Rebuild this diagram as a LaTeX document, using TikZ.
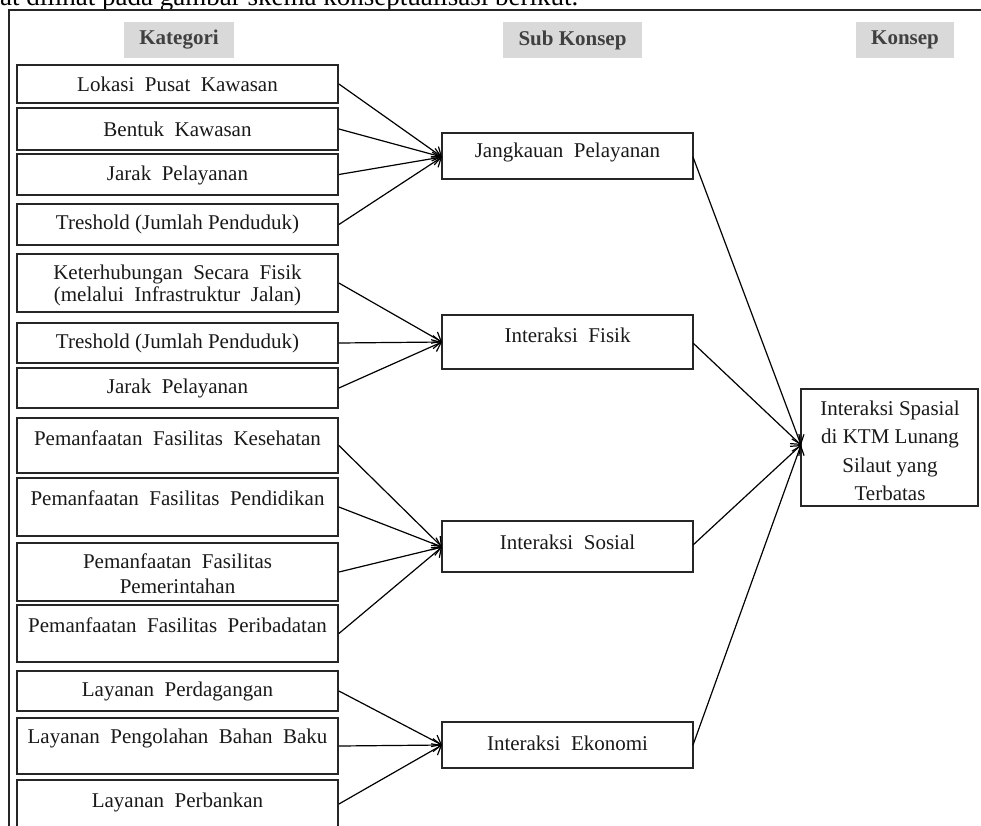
\documentclass[tikz,border=0pt]{standalone}
\usepackage{fontspec}
\setmainfont{Liberation Serif}
\usetikzlibrary{arrows.meta,calc}
\definecolor{hdrfill}{HTML}{D9D9D9}
\definecolor{hdrtext}{HTML}{404040}
\tikzset{
  lbox/.style={draw=black!85, line width=1.8pt, minimum width=321pt, inner sep=0pt, rectangle},
  mbox/.style={draw=black!85, line width=1.8pt, minimum width=251pt, inner sep=0pt, rectangle},
  txt/.style={inner sep=0pt, align=center, text=black!90, font=\fontsize{21}{25}\selectfont},
  hdr/.style={fill=hdrfill, inner sep=0pt, minimum height=36pt, text=hdrtext, font=\fontsize{21}{25}\selectfont\bfseries},
  arr/.style={line width=1.2pt, -{Straight Barb[length=8pt,width=13pt,line width=1.2pt]}},
  frame/.style={line width=1.8pt, draw=black!85}
}
\begin{document}
\begin{tikzpicture}[x=1pt,y=-1pt]
\useasboundingbox (0,0) rectangle (981,825);
\clip (0,0) rectangle (981,825);
% cropped introductory sentence
\node[anchor=base west, inner sep=0pt, font=\fontsize{27}{30}\selectfont] (intro) at (0,5) {at dilihat pada gambar skema konseptualisasi berikut.};
% frame
\draw[frame] (9,835) -- (9,10) -- (990,10);
% headers
\node[hdr, minimum width=110pt] (hk) at (179,40) {Kategori};
\node[hdr, minimum width=139pt] (hs) at (572.5,40) {Sub Konsep};
\node[hdr, minimum width=98pt] (hc) at (905,40) {Konsep};
% left boxes
\node[lbox, minimum height=38pt] (b1) at (177.5,84) {};
\node[txt] (t1) at (177.5,84) {Lokasi\ \ Pusat\ \ Kawasan};
\node[lbox, minimum height=42pt] (b2) at (177.5,129) {};
\node[txt] (t2) at (177.5,129) {Bentuk\ \ Kawasan};
\node[lbox, minimum height=41pt] (b3) at (177.5,174.5) {};
\node[txt] (t3) at (177.5,175) {Jarak\ \ Pelayanan};
\node[lbox, minimum height=41pt] (b4) at (177.5,224.5) {};
\node[txt] (t4) at (177.5,224) {Treshold (Jumlah Penduduk)};
\node[lbox, minimum height=58pt] (b5) at (177.5,283) {};
\node[txt, font=\fontsize{21}{22}\selectfont] (t5) at (177.5,285) {Keterhubungan\ \ Secara\ \ Fisik\\(melalui\ \ Infrastruktur\ \ Jalan)};
\node[lbox, minimum height=40pt] (b6) at (177.5,343) {};
\node[txt] (t6) at (177.5,343) {Treshold (Jumlah Penduduk)};
\node[lbox, minimum height=40pt] (b7) at (177.5,388) {};
\node[txt] (t7) at (177.5,388) {Jarak\ \ Pelayanan};
\node[lbox, minimum height=55pt] (b8) at (177.5,445.5) {};
\node[txt] (t8) at (177.5,438) {Pemanfaatan\ \ Fasilitas\ \ Kesehatan};
\node[lbox, minimum height=58pt] (b9) at (177.5,507) {};
\node[txt] (t9) at (177.5,498) {Pemanfaatan\ \ Fasilitas\ \ Pendidikan};
\node[lbox, minimum height=58pt] (b10) at (177.5,572) {};
\node[txt, font=\fontsize{21}{25}\selectfont] (t10) at (177.5,574) {Pemanfaatan\ \ Fasilitas\\Pemerintahan};
\node[lbox, minimum height=57pt] (b11) at (177.5,633.5) {};
\node[txt] (t11) at (177.5,625) {Pemanfaatan\ \ Fasilitas\ \ Peribadatan};
\node[lbox, minimum height=40pt] (b12) at (177.5,691) {};
\node[txt] (t12) at (177.5,691) {Layanan\ \ Perdagangan};
\node[lbox, minimum height=56pt] (b13) at (177.5,746) {};
\node[txt] (t13) at (177.5,738) {Layanan\ \ Pengolahan\ \ Bahan\ \ Baku};
\node[lbox, minimum height=48pt] (b14) at (177.5,804) {};
\node[txt] (t14) at (177.5,802) {Layanan\ \ Perbankan};
% middle boxes
\node[mbox, minimum height=46pt] (m1) at (567.5,156) {};
\node[txt] (s1) at (567.5,152) {Jangkauan\ \ Pelayanan};
\node[mbox, minimum height=54pt] (m2) at (567.5,342) {};
\node[txt] (s2) at (567.5,335) {Interaksi\ \ Fisik};
\node[mbox, minimum height=51pt] (m3) at (567.5,546.5) {};
\node[txt] (s3) at (567.5,542) {Interaksi\ \ Sosial};
\node[mbox, minimum height=46pt] (m4) at (567.5,745) {};
\node[txt] (s4) at (567.5,743) {Interaksi\ \ Ekonomi};
% concept box
\node[draw=black!85, line width=1.8pt, rectangle, inner sep=0pt, minimum width=177pt, minimum height=117pt] (k) at (889.5,447.5) {};
\node[txt, font=\fontsize{21}{28.5}\selectfont] (kt) at (890,451) {Interaksi Spasial\\di KTM Lunang\\Silaut yang\\Terbatas};
% connector end points
\coordinate (m1in) at (442,157);
\coordinate (m2in) at (442,342);
\coordinate (m3in) at (442,547);
\coordinate (m4in) at (442,745);
\coordinate (m1out) at (693,157);
\coordinate (m2out) at (693,343);
\coordinate (m3out) at (693,545);
\coordinate (m4out) at (693,745);
\coordinate (kin) at (801,445);
% connectors
\foreach \b in {b1,b2,b3,b4} \draw[arr] (\b.east) -- (m1in);
\foreach \b in {b5,b6,b7} \draw[arr] (\b.east) -- (m2in);
\foreach \b in {b8,b9,b10,b11} \draw[arr] (\b.east) -- (m3in);
\foreach \b in {b12,b13,b14} \draw[arr] (\b.east) -- (m4in);
\foreach \m in {m1out,m2out,m3out,m4out} \draw[arr] (\m) -- (kin);
\end{tikzpicture}
\end{document}
